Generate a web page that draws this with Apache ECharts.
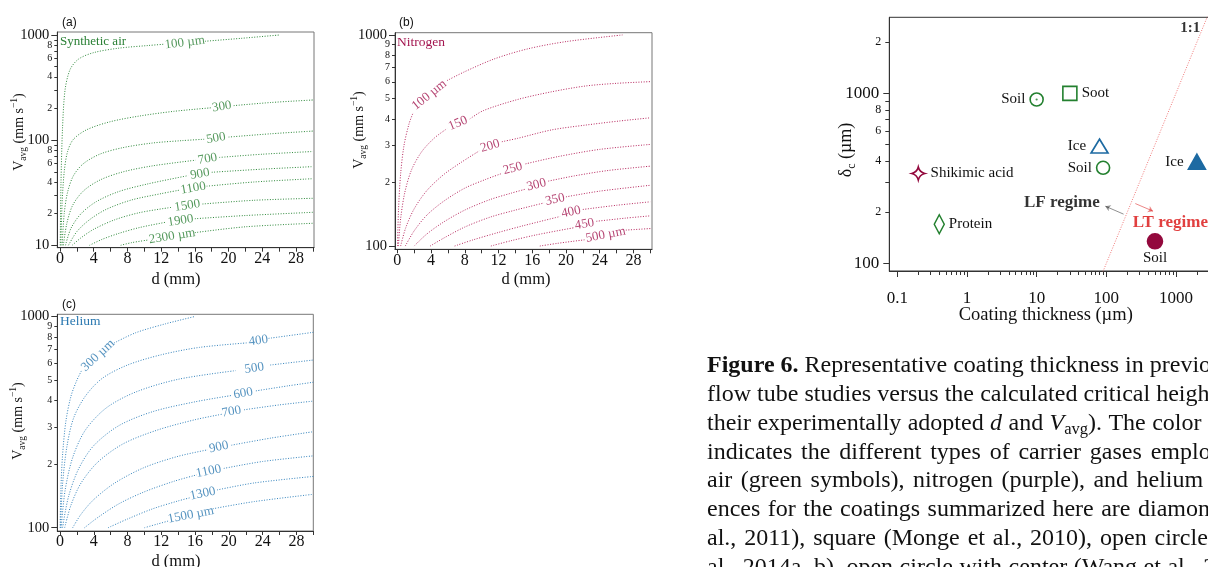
<!DOCTYPE html>
<html>
<head>
<meta charset="utf-8">
<script src="https://cdn.jsdelivr.net/npm/echarts@6/dist/echarts.min.js"></script>
<style>html,body{margin:0;padding:0;background:#fff}#c{width:1208px;height:567px}</style>
</head>
<body>
<div id="c"></div>
<script>
// ---------- Panel (a): synthetic air, d (mm) vs Vavg (mm s-1) for fixed critical heights ----------
const airLabels = ['100 µm', '300', '500', '700', '900', '1100', '1500', '1900', '2300 µm'];
const air100  = [[0.03,10],[0.12,40],[0.3,130],[0.6,300],[1.2,470],[2.2,590],[4,680],[7,750],[10.5,795],[12.4,818], null, [17.2,872],[21.5,930],[26,1000]];
const air300  = [[0.1,10],[0.25,25],[0.5,50],[0.9,78],[1.6,102],[3.2,126],[6,150],[9.5,170],[13.5,188],[17.9,203], null, [20.6,213],[25,228],[30,241]];
const air500  = [[0.25,10],[0.5,20],[0.9,32],[1.6,46],[2.8,60],[4.8,74],[7.5,85],[11,94],[14.5,99],[17.1,102], null, [20,107],[25,115],[30,122]];
const air700  = [[0.4,10],[0.8,16],[1.5,24],[2.8,33],[4.8,42],[7.5,50],[11,57],[16.1,64.5], null, [18.9,68.5],[24,73.5],[30,78]];
const air900  = [[0.65,10],[1.3,14.5],[2.5,20],[4.3,26],[7,32.5],[10.5,38.5],[15.2,46], null, [18,49.5],[24,53],[30,56]];
const air1100 = [[1.0,10],[2,13.5],[3.5,17.5],[5.5,22],[8.5,27],[12,31],[14.2,33.5], null, [17.4,36.5],[23,40],[30,43]];
const air1500 = [[1.44,10],[2.5,11.8],[4,14.2],[6.5,17.5],[9.5,20.5],[13.3,23], null, [16.9,24.7],[23,26.8],[30,28]];
const air1900 = [[3.5,10],[5,11.4],[7,13],[9.5,14.8],[12.6,16.6], null, [16,17.9],[22,19.2],[30,20.6]];
const air2300 = [[7.2,10],[8.5,10.6],[10.5,11.25], null, [16,13.2],[22,15],[30,16.2]];
const airCurves = [air100, air300, air500, air700, air900, air1100, air1500, air1900, air2300];
const airLabelAt = [[14.8,845],[19.2,208],[18.5,104.5],[17.5,66.3],[16.6,47.7],[15.8,35],[15.1,23.8],[14.3,17.2],[13.3,12.2]];

// ---------- Panel (b): nitrogen ----------
const n2Labels = ['100 µm', '150', '200', '250', '300', '350', '400', '450', '500 µm'];
const n2_100 = [[0.03,100],[0.15,150],[0.4,220],[0.8,300],[1.4,380],[1.9,430], null, [5.9,608],[8,670],[11.5,770],[15.5,860],[20,930],[26.7,1000]];
const n2_150 = [[0.13,100],[0.4,135],[0.9,180],[1.7,230],[2.9,280],[4.4,325],[5.9,360], null, [8.6,400],[10.2,438],[14.3,495],[18.3,538],[22.3,573],[26,590],[30,601]];
const n2_200 = [[0.4,100],[1,122],[2,150],[3.5,183],[5.5,218],[7.5,248],[9.7,282], null, [12.4,312],[14.3,324],[18.3,355],[22.3,374],[26.3,391],[30,405]];
const n2_250 = [[0.95,100],[2,118],[3.5,140],[5.5,163],[8,188],[10.5,207],[12.3,220], null, [15.2,245],[19,265],[24,287],[30,303]];
const n2_300 = [[2,100],[3.5,114],[5.5,130],[8,148],[11,166],[13.5,178],[15.2,186], null, [17.9,203],[21,215],[25,228],[30,239]];
const n2_350 = [[3.9,100],[5.5,109],[8,123],[11,137],[14,148],[17.4,160], null, [20,171],[24,182],[30,194]];
const n2_400 = [[6.8,100],[9,107],[12,116],[15,125],[19.3,138], null, [22,149],[26,156],[30,162]];
const n2_450 = [[11.1,100],[13.5,106],[16.5,113],[20.9,122], null, [23.6,131],[27,135.5],[30,139]];
const n2_500 = [[16.9,100],[19,103],[22.2,107], null, [27.1,119],[30,121]];
const n2Curves = [n2_100, n2_150, n2_200, n2_250, n2_300, n2_350, n2_400, n2_450, n2_500];
const n2LabelAt = [[3.8,520],[7.2,381],[11,298],[13.7,233],[16.5,195],[18.7,166],[20.6,145],[22.2,127],[24.7,113]];

// ---------- Panel (c): helium ----------
const heLabels = ['300 µm', '400', '500', '600', '700', '900', '1100', '1300', '1500 µm'];
const he300  = [[0.02,100],[0.1,150],[0.3,220],[0.7,320],[1.3,420],[2,500],[2.6,560], null, [6.4,750],[9,840],[12.5,925],[15.9,1000]];
const he400  = [[0.06,100],[0.3,160],[0.8,240],[1.6,330],[3,420],[5,510],[8,590],[12,660],[16.5,715],[22.3,752], null, [24.7,789],[30,843]];
const he500  = [[0.14,100],[0.6,150],[1.5,215],[3,290],[5.5,370],[9,440],[14,505],[20.8,555], null, [24.9,590],[30,623]];
const he600  = [[0.3,100],[1,140],[2.2,190],[4,245],[7,305],[11,355],[16,395],[20.3,423], null, [23.2,445],[27,470],[30,489]];
const he700  = [[0.55,100],[1.3,128],[2.5,163],[4.5,205],[7.5,250],[11.5,290],[16,325],[19.2,345], null, [21.8,362],[26,382],[30,398]];
const he900  = [[1.5,100],[2.5,116],[4,136],[6.5,163],[10,193],[14,218],[17.5,234], null, [20.3,246],[25,266],[30,285]];
const he1100 = [[2.9,100],[4.5,112],[7,130],[10,148],[13.5,166],[16.2,178], null, [19.4,191],[24,206],[30,219]];
const he1300 = [[5.7,100],[8,110],[11,123],[14,134],[15.5,139], null, [18.6,151],[23,163],[30,175]];
const he1500 = [[10,100],[11.5,104],[12.8,107.5], null, [18.1,123],[23,133],[30,144]];
const heCurves = [he300, he400, he500, he600, he700, he900, he1100, he1300, he1500];
const heLabelAt = [[4.5,655],[23.5,770],[23,570],[21.7,433],[20.3,355],[18.8,241],[17.6,185],[16.9,145],[15.5,115]];

// Axis ticks shared by the three d–Vavg panels
const dTicks = [0,2,4,6,8,10,12,14,16,18,20,22,24,26,28,30];
const dTickLabels = [0,4,8,12,16,20,24,28];
const vMajorA = [10,100,1000];
const vMinorA = [20,30,40,50,60,70,80,90,200,300,400,500,600,700,800,900];
const vMinorLabelsA = [20,40,60,80,200,400,600,800];
const vMajorBC = [100,1000];
const vMinorBC = [200,300,400,500,600,700,800,900];

// ---------- Panel (d): coating thickness vs calculated critical height ----------
const coatNames  = ['Protein', 'Shikimic acid', 'Soil', 'Soot', 'Ice', 'Soil', 'Ice', 'Soil'];
const coatThick  = [0.4, 0.2, 10, 30, 80, 90, 2000, 500];      // µm
const critHeight = [170, 338, 920, 1000, 490, 365, 396, 135];   // µm
const oneToOne   = [[10,10],[10000,10000]];
const xMajorD = [0.1,1,10,100,1000,10000];
const xMinorD = [0.2,0.3,0.4,0.5,0.6,0.7,0.8,0.9,2,3,4,5,6,7,8,9,20,30,40,50,60,70,80,90,200,300,400,500,600,700,800,900,2000,3000,4000,5000,6000,7000,8000,9000];
const yMajorD = [100,1000];
const yMinorD = [200,300,400,500,600,700,800,900,2000];
const yMinorLabelsD = [200,400,600,800,2000];
// regime annotations: text anchors and arrows (data coordinates)
const regimeText = [['LF regime', 23, 229], ['LT regime', 832, 173], ['1:1', 1610, 2420]];
const lfArrow = [[177,195],[97,217]];
const ltArrow = [[261,225],[469,203]];

// ---------- caption ----------
const captionLines = [
  ['b:Figure 6.', 'Representative', 'coating', 'thickness', 'in', 'previous'],
  ['flow', 'tube', 'studies', 'versus', 'the', 'calculated', 'critical', 'height'],
  ['their', 'experimentally', 'adopted', 'i:d', 'and', 'i:V|s:avg|).', 'The', 'color'],
  ['indicates', 'the', 'different', 'types', 'of', 'carrier', 'gases', 'employed:'],
  ['air', '(green', 'symbols),', 'nitrogen', '(purple),', 'and', 'helium', '(blue).'],
  ['ences', 'for', 'the', 'coatings', 'summarized', 'here', 'are', 'diamond'],
  ['al.,', '2011),', 'square', '(Monge', 'et', 'al.,', '2010),', 'open', 'circle'],
  ['al.,', '2014a,', 'b),', 'open', 'circle', 'with', 'center', '(Wang', 'et', 'al.,', '2']
];

// ================= drawing =================
const SERIF = '"Liberation Serif", "Times New Roman", serif';
const SANS = '"Liberation Sans", Arial, sans-serif';
const INK = '#111';
const GREEN = '#2a8035', GREEN_LINE = '#2f8a3c';
const PURPLE = '#a3154f', PURPLE_LINE = '#b8285f';
const BLUE = '#2a78b0', BLUE_LINE = '#3584bd';
const D_GREEN = '#23802f', D_PURPLE = '#93093d', D_BLUE = '#1d6aa2';
const RED = '#d90f0f';

const mctx = document.createElement('canvas').getContext('2d');
function fontOf(p) { return (p.italic ? 'italic ' : '') + (p.bold ? 'bold ' : '') + p.size + 'px ' + SERIF; }
function textW(t, f) { mctx.font = f; return mctx.measureText(t).width; }

// horizontal run of text fragments, centred on (cx, cy), optionally rotated
function runGroup(parts, cx, cy, rotation, color) {
  let w = 0; const kids = [];
  parts.forEach(p => {
    const f = fontOf(p);
    kids.push({ type: 'text', x: w, y: p.dy || 0, style: { text: p.t, font: f, fill: p.color || color || INK, align: 'left', verticalAlign: 'middle' } });
    w += textW(p.t, f);
  });
  kids.forEach(k => { k.x -= w / 2; });
  return { type: 'group', x: cx, y: cy, rotation: rotation || 0, silent: true, children: kids };
}

function splitSegments(c) {
  const segs = []; let s = [];
  c.forEach(p => { if (p === null) { segs.push(s); s = []; } else s.push(p); });
  segs.push(s); return segs;
}

function contourSeries(gi, curves, color) {
  const out = [];
  curves.forEach(c => splitSegments(c).forEach(seg => out.push({
    type: 'line', xAxisIndex: gi, yAxisIndex: 2 * gi, data: seg, smooth: 0.3, symbol: 'none', silent: true,
    lineStyle: { color, width: 1, type: [1, 1.6] }, z: 3
  })));
  return out;
}
function contourLabels(gi, at, texts, rots, color) {
  return {
    type: 'scatter', xAxisIndex: gi, yAxisIndex: 2 * gi, symbolSize: 1, silent: true, z: 5,
    itemStyle: { color: 'transparent' },
    data: at.map((p, i) => ({ value: p, label: { show: true, formatter: texts[i], rotate: rots[i] } })),
    label: { position: 'inside', color, fontFamily: SERIF, fontSize: 13, align: 'center', verticalAlign: 'middle' }
  };
}

function decade(v) { return String(+v.toPrecision(6)); }
function mantissa(v) { const e = Math.floor(Math.log10(v) + 1e-9); return String(Math.round(v / Math.pow(10, e))); }

function dAxis(gi, min, max) {
  return {
    type: 'value', gridIndex: gi, min, max, position: 'bottom',
    axisLine: { show: true, onZero: false, lineStyle: { color: '#333', width: 1 } },
    axisTick: { show: true, inside: false, length: 4, customValues: dTicks, lineStyle: { color: '#333' } },
    axisLabel: { show: true, customValues: dTickLabels, margin: 3, fontFamily: SERIF, fontSize: 16, color: INK, formatter: v => String(v) },
    splitLine: { show: false }
  };
}
function logAxis(gi, min, max, o) {
  return {
    type: 'log', logBase: 10, gridIndex: gi, min, max, position: o.position,
    axisLine: { show: !!o.line, onZero: false, lineStyle: { color: '#333', width: 1 } },
    axisTick: { show: true, inside: false, length: o.tickLen, customValues: o.ticks, lineStyle: { color: '#333' } },
    axisLabel: { show: !!o.labels, customValues: o.labels || [], margin: o.margin, fontFamily: SERIF, fontSize: o.fontSize, color: INK, formatter: o.fmt },
    splitLine: { show: false }, minorTick: { show: false }
  };
}

const rotA = [7, 9, 10, 10, 10, 10, 9, 9, 9];
const rotB = [39, 22, 17, 15, 14, 12, 12, 10, 11];
const rotC = [43, 7, 8, 10, 10, 12, 12, 12, 11];

const grids = [
  { left: 57.3, top: 32, width: 256.7, height: 215.7 },
  { left: 395, top: 32.7, width: 257, height: 216.6 },
  { left: 57.3, top: 314.3, width: 256, height: 216.7 },
  { left: 889.3, top: 17.3, width: 356.3, height: 253.7 }
].map((g, i) => Object.assign(g, { show: true, borderColor: i === 3 ? '#333' : '#777', borderWidth: 1, containLabel: false, outerBoundsMode: 'none' }));

const xAxes = [
  dAxis(0, -0.32, 30.13),
  dAxis(1, -0.27, 30.2),
  dAxis(2, -0.32, 30.0),
  logAxis(3, 0.0767, 10000, { position: 'bottom', line: true, ticks: xMajorD, tickLen: 6, labels: xMajorD, margin: 19, fontSize: 17, fmt: decade }),
  logAxis(3, 0.0767, 10000, { position: 'bottom', line: false, ticks: xMinorD, tickLen: 4 })
];
const yAxes = [
  logAxis(0, 9.49, 1068, { position: 'left', line: true, ticks: vMajorA, tickLen: 6, labels: vMajorA, margin: 8, fontSize: 14.5, fmt: decade }),
  logAxis(0, 9.49, 1068, { position: 'left', line: false, ticks: vMinorA, tickLen: 3, labels: vMinorLabelsA, margin: 5, fontSize: 10, fmt: mantissa }),
  logAxis(1, 96.5, 1025, { position: 'left', line: true, ticks: vMajorBC, tickLen: 6, labels: vMajorBC, margin: 8, fontSize: 14.5, fmt: decade }),
  logAxis(1, 96.5, 1025, { position: 'left', line: false, ticks: vMinorBC, tickLen: 3, labels: vMinorBC, margin: 5, fontSize: 10, fmt: mantissa }),
  logAxis(2, 96.5, 1026, { position: 'left', line: true, ticks: vMajorBC, tickLen: 6, labels: vMajorBC, margin: 8, fontSize: 14.5, fmt: decade }),
  logAxis(2, 96.5, 1026, { position: 'left', line: false, ticks: vMinorBC, tickLen: 3, labels: vMinorBC, margin: 5, fontSize: 10, fmt: mantissa }),
  logAxis(3, 90.3, 2800, { position: 'left', line: true, ticks: yMajorD, tickLen: 6, labels: yMajorD, margin: 10, fontSize: 17, fmt: decade }),
  logAxis(3, 90.3, 2800, { position: 'left', line: false, ticks: yMinorD, tickLen: 4, labels: yMinorLabelsD, margin: 8, fontSize: 12, fmt: mantissa })
];

// marker appearance for the panel (d) points, in the same order as coatNames
const STAR = 'path://M50,0 Q60,40 100,50 Q60,60 50,100 Q40,60 0,50 Q40,40 50,0 Z';
const markerLook = [
  { symbol: 'diamond', size: [10, 19], stroke: D_GREEN, fill: '#fff', pos: 'right', dist: 4 },
  { symbol: STAR, size: 13, stroke: D_PURPLE, fill: '#fff', pos: 'right', dist: 5 },
  { symbol: 'circle', size: 13, stroke: D_GREEN, fill: '#fff', pos: 'left', dist: 4 },
  { symbol: 'rect', size: 14, stroke: D_GREEN, fill: '#fff', pos: 'right', dist: 4 },
  { symbol: 'triangle', size: [17, 14], stroke: D_BLUE, fill: '#fff', pos: 'left', dist: 4 },
  { symbol: 'circle', size: 13, stroke: D_GREEN, fill: '#fff', pos: 'left', dist: 4 },
  { symbol: 'triangle', size: [17, 15], stroke: D_BLUE, fill: D_BLUE, pos: 'left', dist: 4 },
  { symbol: 'circle', size: 15, stroke: D_PURPLE, fill: D_PURPLE, pos: 'bottom', dist: 1 }
];

const series = [].concat(
  contourSeries(0, airCurves, GREEN_LINE),
  [contourLabels(0, airLabelAt, airLabels, rotA, GREEN)],
  contourSeries(1, n2Curves, PURPLE_LINE),
  [contourLabels(1, n2LabelAt, n2Labels, rotB, PURPLE)],
  contourSeries(2, heCurves, BLUE_LINE),
  [contourLabels(2, heLabelAt, heLabels, rotC, BLUE)],
  [
    {
      type: 'line', xAxisIndex: 3, yAxisIndex: 6, data: oneToOne, symbol: 'none', silent: true,
      lineStyle: { color: '#f07a7a', width: 1, type: [1, 1.5] }
    },
    {
      type: 'scatter', xAxisIndex: 3, yAxisIndex: 6, silent: true, z: 4,
      data: coatNames.map((n, i) => ({
        value: [coatThick[i], critHeight[i]], name: n,
        symbol: markerLook[i].symbol, symbolSize: markerLook[i].size,
        itemStyle: { color: markerLook[i].fill, borderColor: markerLook[i].stroke, borderWidth: 1.6, opacity: 1 },
        label: { show: true, position: markerLook[i].pos, formatter: n, distance: markerLook[i].dist }
      })),
      label: { fontFamily: SERIF, fontSize: 15, color: INK }
    },
    {
      type: 'scatter', xAxisIndex: 3, yAxisIndex: 6, silent: true, z: 5, symbol: 'circle', symbolSize: 2.2,
      itemStyle: { color: D_GREEN }, data: [[coatThick[2], critHeight[2]]]
    },
    {
      type: 'lines', coordinateSystem: 'cartesian2d', xAxisIndex: 3, yAxisIndex: 6, silent: true, z: 4,
      symbol: ['none', 'arrow'], symbolSize: 5,
      data: [
        { coords: lfArrow, lineStyle: { color: '#222', width: 1 } },
        { coords: ltArrow, lineStyle: { color: RED, width: 1 } }
      ]
    },
    {
      type: 'scatter', xAxisIndex: 3, yAxisIndex: 6, silent: true, z: 5, symbolSize: 1,
      itemStyle: { color: 'transparent' },
      data: regimeText.map((r, i) => ({
        value: [r[1], r[2]],
        label: { show: true, position: 'inside', formatter: r[0], fontFamily: SERIF, fontWeight: 'bold',
          fontSize: i === 2 ? 15 : 17, color: i === 1 ? RED : '#000' }
      }))
    }
  ]
);

// ---------- text: titles, axis names, caption ----------
const graphics = [];
function plainText(t, x, y, font, color, align) {
  graphics.push({ type: 'text', x, y, silent: true, style: { text: t, font, fill: color || INK, align: align || 'left', verticalAlign: 'middle' } });
}
plainText('(a)', 62, 22.5, '12px ' + SANS);
plainText('(b)', 399, 22.5, '12px ' + SANS);
plainText('(c)', 62, 304.5, '12px ' + SANS);
plainText('Synthetic air', 60, 42, '13px ' + SERIF, GREEN);
plainText('Nitrogen', 397, 42, '13.5px ' + SERIF, PURPLE);
plainText('Helium', 60, 321.7, '13.5px ' + SERIF, BLUE);

const vName = [{ t: 'V', size: 14 }, { t: 'avg', size: 9.5, dy: 4 }, { t: ' (mm s', size: 14 }, { t: '\u22121', size: 9.5, dy: -5 }, { t: ')', size: 14 }];
graphics.push(runGroup(vName, 19, 132, Math.PI / 2));
graphics.push(runGroup(vName, 359, 130, Math.PI / 2));
graphics.push(runGroup(vName, 18.5, 421, Math.PI / 2));
const dName = [{ t: 'd (mm)', size: 16.5 }];
graphics.push(runGroup(dName, 176, 280, 0));
graphics.push(runGroup(dName, 526, 280, 0));
graphics.push(runGroup(dName, 176, 561.5, 0));
graphics.push(runGroup([{ t: 'Coating thickness (µm)', size: 18.5 }], 1045.8, 315.5, 0));
graphics.push(runGroup([{ t: '\u03b4', size: 18 }, { t: 'c', size: 12, dy: 5 }, { t: ' (µm)', size: 18 }], 846.5, 150, Math.PI / 2));

// caption: justified lines, word by word
const CAP = 24;
const capGap = [6, 6.1, 6.4, 8.8, 8.5, 7.5, 7.9, 6.5];
captionLines.forEach((words, li) => {
  let x = 707; const y = 366 + li * 28.75;
  words.forEach(w => {
    w.split('|').forEach(tok => {
      const p = { size: CAP };
      if (tok.startsWith('b:')) { p.bold = true; tok = tok.slice(2); }
      else if (tok.startsWith('i:')) { p.italic = true; tok = tok.slice(2); }
      else if (tok.startsWith('s:')) { p.size = 16.5; p.dy = 6; tok = tok.slice(2); }
      const f = fontOf(p);
      graphics.push({ type: 'text', x, y: y + (p.dy || 0), silent: true, style: { text: tok, font: f, fill: INK, align: 'left', verticalAlign: 'middle' } });
      x += textW(tok, f);
    });
    x += capGap[li];
  });
});

const chart = echarts.init(document.getElementById('c'), null, { renderer: 'canvas', width: 1208, height: 567 });
chart.setOption({
  animation: false,
  backgroundColor: '#fff',
  textStyle: { fontFamily: SERIF },
  grid: grids,
  xAxis: xAxes,
  yAxis: yAxes,
  series,
  graphic: graphics
});
</script>
</body>
</html>
